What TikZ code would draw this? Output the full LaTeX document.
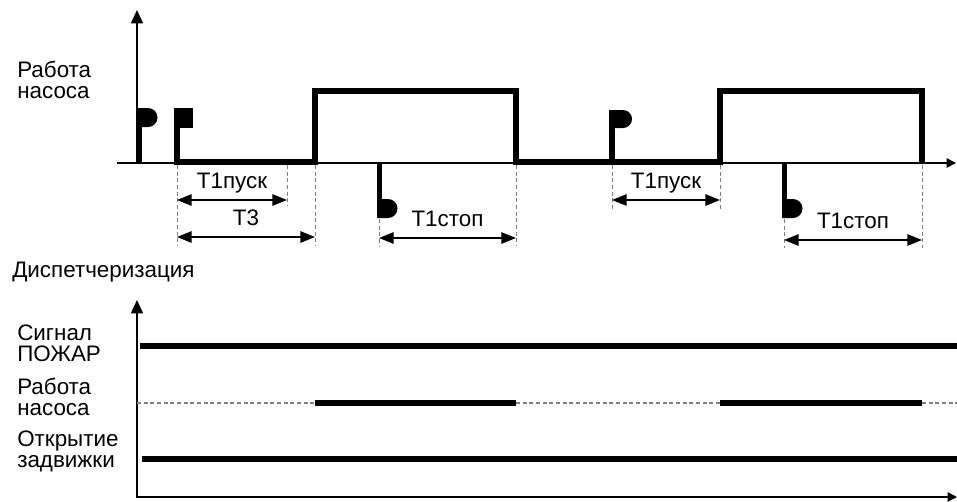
\documentclass[tikz,border=0pt]{standalone}
\usepackage{fontspec}
\setmainfont{Liberation Sans}
\usetikzlibrary{arrows.meta}

\begin{document}
\begin{tikzpicture}[x=0.75pt,y=0.75pt,yscale=-1,xscale=1,
  lbl/.style={anchor=north west, inner sep=0.75pt, align=left, font=\fontsize{16.8}{15.8}\selectfont},
  tlbl/.style={inner sep=0.75pt, anchor=base, yshift=8.5pt, font=\fontsize{16.8}{15.8}\selectfont},
  axis/.style={line width=1.1pt},
  sig/.style={line width=4pt},
  ext/.style={draw=gray, line width=0.6pt, dash pattern={on 3pt off 2pt}},
  dim/.style={line width=1.4pt, {Triangle[length=11pt,width=8.5pt]}-{Triangle[length=11pt,width=8.5pt]}},
  idle/.style={draw=gray, line width=1.5pt, dash pattern={on 3pt off 2pt}}]
\useasboundingbox (0,0) rectangle (957,501);

%Axes: upper diagram
\draw [axis, -{Triangle[length=10pt,width=9pt]}] (137,163) -- (137,10) ;
\draw [axis, -{Triangle[length=7pt,width=7pt]}] (117,163) -- (956,163) ;

%Shape: start flags
\draw [sig] (139.5,162) -- (139.5,108) ;
\fill (137.5,108) -- (148,108) arc [start angle=-90, end angle=90, radius=9.5] -- (137.5,127) -- cycle ;
\fill (175,108) rectangle (193,128) ;
\draw [sig] (612,162) -- (612,110) ;
\fill (610,110) -- (623,110) arc [start angle=-90, end angle=90, radius=9] -- (610,128) -- cycle ;

%Shape: stop flags
\draw [sig] (379.5,163) -- (379.5,218) ;
\fill (377.5,199) -- (388,199) arc [start angle=-90, end angle=90, radius=9.5] -- (377.5,218) -- cycle ;
\draw [sig] (784.5,163) -- (784.5,218) ;
\fill (782.5,199) -- (793,199) arc [start angle=-90, end angle=90, radius=9.5] -- (782.5,218) -- cycle ;

%Straight Lines: pump signal
\draw [sig] (177,108) -- (177,162) -- (315,162) -- (315,91) -- (516,91) -- (516,162) -- (720,162) -- (720,91) -- (922,91) -- (922,162) ;

%Straight Lines: extension lines
\draw [ext] (177,165) -- (177,246) ;
\draw [ext] (287,165) -- (287,206) ;
\draw [ext] (315,165) -- (315,246) ;
\draw [ext] (379,219) -- (379,246) ;
\draw [ext] (516,165) -- (516,246) ;
\draw [ext] (612,165) -- (612,210) ;
\draw [ext] (720,165) -- (720,210) ;
\draw [ext] (784,219) -- (784,248) ;
\draw [ext] (922,165) -- (922,248) ;

%Dimension arrows
\coordinate (p1a) at (177,200) ; \coordinate (p1b) at (287,200) ;
\coordinate (t3a) at (177,237) ; \coordinate (t3b) at (315,237) ;
\coordinate (s1a) at (379,238) ; \coordinate (s1b) at (516,238) ;
\coordinate (p2a) at (612,200) ; \coordinate (p2b) at (720,200) ;
\coordinate (s2a) at (784,240) ; \coordinate (s2b) at (922,240) ;
\draw [dim] (p1a) -- (p1b) node [tlbl, midway] (pusk1) {Т1пуск} ;
\draw [dim] (t3a) -- (t3b) node [tlbl, midway] (tz) {Т3} ;
\draw [dim] (s1a) -- (s1b) node [tlbl, midway] (stop1) {Т1стоп} ;
\draw [dim] (p2a) -- (p2b) node [tlbl, midway] (pusk2) {Т1пуск} ;
\draw [dim] (s2a) -- (s2b) node [tlbl, midway] (stop2) {Т1стоп} ;

% Text Node
\node [lbl] (pump) at (16,60) {Работа\\насоса} ;
% Text Node
\node [lbl] (disp) at (11,261) {Диспетчеризация} ;

%Axes: lower diagram
\draw [axis, -{Triangle[length=10pt,width=9pt]}] (137,498) -- (137,300) ;
\draw [axis, -{Triangle[length=7pt,width=7pt]}] (137,497) -- (957,497) ;

%Straight Lines: dispatch signals
\draw [sig] (140,346) -- (957,346) ;
\draw [idle] (137,403) -- (315,403) ;
\draw [sig] (315,403) -- (516,403) ;
\draw [idle] (516,403) -- (720,403) ;
\draw [sig] (720,403) -- (922,403) ;
\draw [idle] (922,403) -- (957,403) ;
\draw [sig] (142,459) -- (957,459) ;

% Text Node
\node [lbl] (fire) at (16,324) {Сигнал\\ПОЖАР} ;
% Text Node
\node [lbl] (pumpd) at (16,377) {Работа\\насоса} ;
% Text Node
\node [lbl] (valve) at (16,430) {Открытие\\задвижки} ;

\end{tikzpicture}
\end{document}
